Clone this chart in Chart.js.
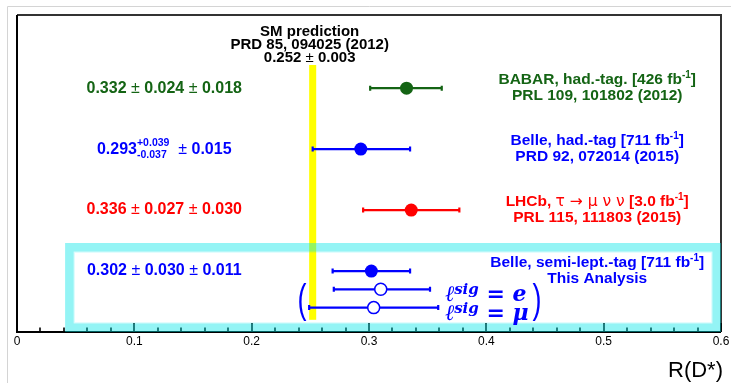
<!DOCTYPE html>
<html>
<head>
<meta charset="utf-8">
<script src="https://cdn.jsdelivr.net/npm/chart.js@4.4.1/dist/chart.umd.min.js"></script>
<style>
  html, body { margin: 0; padding: 0; background: #fff; }
  canvas { display: block; }
</style>
</head>
<body>
<canvas id="chart" width="731" height="383"></canvas>
<script>
// measurements (total error drawn as bar)
const experiments = ['BABAR, had.-tag.', 'Belle, had.-tag', 'LHCb, ', 'Belle, semi-lept.-tag']
const decayTags = ['', '', 'τ → μ ν ν', '']
const lumis = ['426', '711', '3.0', '711']
const references = ['PRL 109, 101802 (2012)', 'PRD 92, 072014 (2015)', 'PRL 115, 111803 (2015)', 'This Analysis']
const rdCentral = [0.332, 0.293, 0.336, 0.302]
const rdErrLow = [0.031, 0.041, 0.041, 0.033]
const rdErrHigh = [0.030, 0.042, 0.041, 0.033]
const statErrors = [['0.024'], ['+0.039', '-0.037'], ['0.027'], ['0.030']]
const systErrors = ['0.018', '0.015', '0.030', '0.011']
const rowPos = [1.2, 2.2, 3.2, 4.2]
const expColors = ['#146414', '#0000ff', '#ff0000', '#0000ff']

// this analysis split by signal lepton
const leptons = ['e', 'μ']
const leptonCentral = [0.310, 0.304]
const leptonErrLow = [0.040, 0.055]
const leptonErrHigh = [0.042, 0.055]
const leptonRowPos = [4.5, 4.8]

// SM prediction
const smValue = 0.252
const smError = 0.003
const smLines = ['SM prediction', 'PRD 85, 094025 (2012)']
const smRows = [0.82, 5.0]

// highlighted box around this analysis
const boxRange = { xMin: 0.041, xMax: 0.6, yMin: 3.74, yMax: 5.2 }

const xTickValues = [0, 0.1, 0.2, 0.3, 0.4, 0.5, 0.6]
const xTickLabels = ['0', '0.1', '0.2', '0.3', '0.4', '0.5', '0.6']
const xTitle = 'R(D*)'

const SANS = '"Liberation Sans", Arial, Helvetica, sans-serif'
const SERIF = '"DejaVu Serif", "Liberation Serif", serif'
const B = (s) => `bold ${s}px ${SANS}`
const R = (s) => `${s}px ${SANS}`

function drawRuns (ctx, runs, x, y, align) {
  let total = 0
  runs.forEach((r) => { ctx.font = r.font; r.w = ctx.measureText(r.text).width; total += r.w })
  let cx = align === 'center' ? x - total / 2 : (align === 'right' ? x - total : x)
  ctx.textAlign = 'left'
  runs.forEach((r) => {
    ctx.font = r.font
    ctx.fillText(r.text, cx, y + (r.dy || 0))
    cx += r.w
  })
}

const errorBars = {
  id: 'errorBars',
  beforeDatasetsDraw (chart) {
    const { ctx, scales: { x, y } } = chart
    ctx.save()
    // SM band
    ctx.fillStyle = '#ffff00'
    const bx0 = x.getPixelForValue(smValue - smError)
    const bx1 = x.getPixelForValue(smValue + smError)
    const by0 = y.getPixelForValue(smRows[0])
    const by1 = y.getPixelForValue(smRows[1])
    ctx.fillRect(bx0, by0, bx1 - bx0, by1 - by0)

    const bar = (c, lo, hi, row, color) => {
      const py = y.getPixelForValue(row)
      const x0 = x.getPixelForValue(c - lo)
      const x1 = x.getPixelForValue(c + hi)
      ctx.strokeStyle = color
      ctx.lineWidth = 2.2
      ctx.beginPath()
      ctx.moveTo(x0, py); ctx.lineTo(x1, py)
      ctx.moveTo(x0, py - 2.5); ctx.lineTo(x0, py + 2.5)
      ctx.moveTo(x1, py - 2.5); ctx.lineTo(x1, py + 2.5)
      ctx.stroke()
    }
    rdCentral.forEach((c, i) => bar(c, rdErrLow[i], rdErrHigh[i], rowPos[i], expColors[i]))
    leptonCentral.forEach((c, i) => bar(c, leptonErrLow[i], leptonErrHigh[i], leptonRowPos[i], '#0000ff'))
    ctx.restore()
  }
}

const decorations = {
  id: 'decorations',
  afterDraw (chart) {
    const { ctx, chartArea: a, scales: { x, y } } = chart
    ctx.save()
    // outer light border
    ctx.strokeStyle = '#d4d4d4'
    ctx.lineWidth = 1
    ctx.beginPath()
    ctx.moveTo(7.5, 383); ctx.lineTo(7.5, 6.5); ctx.lineTo(731, 6.5)
    ctx.stroke()

    // frame
    ctx.lineWidth = 2
    ctx.strokeStyle = '#333'
    ctx.beginPath()
    ctx.moveTo(a.left, a.top); ctx.lineTo(a.right, a.top); ctx.lineTo(a.right, a.bottom)
    ctx.stroke()
    ctx.strokeStyle = '#000'
    ctx.beginPath()
    ctx.moveTo(a.left, a.top); ctx.lineTo(a.left, a.bottom); ctx.lineTo(a.right, a.bottom)
    ctx.stroke()

    // ticks pointing inward
    ctx.lineWidth = 1.6
    ctx.beginPath()
    for (let k = 0; k <= 30; k++) {
      const px = Math.round(x.getPixelForValue(k * 0.02))
      const len = k % 5 === 0 ? 9 : 4.5
      ctx.moveTo(px, a.bottom); ctx.lineTo(px, a.bottom - len)
    }
    ctx.stroke()

    // tick labels
    ctx.fillStyle = '#000'
    ctx.font = R(12)
    ctx.textAlign = 'center'
    ctx.textBaseline = 'middle'
    xTickValues.forEach((v, i) => ctx.fillText(xTickLabels[i], x.getPixelForValue(v), a.bottom + 10))
    ctx.font = R(22)
    ctx.textAlign = 'right'
    ctx.textBaseline = 'alphabetic'
    ctx.fillText(xTitle, a.right + 2, 377)

    // highlight box
    const hx0 = x.getPixelForValue(boxRange.xMin)
    const hx1 = x.getPixelForValue(boxRange.xMax)
    const hy0 = y.getPixelForValue(boxRange.yMin)
    const hy1 = y.getPixelForValue(boxRange.yMax)
    const t = 8.5
    ctx.strokeStyle = 'rgba(0, 228, 232, 0.42)'
    ctx.lineWidth = t
    ctx.strokeRect(hx0 + t / 2, hy0 + t / 2, hx1 - hx0 - t, hy1 - hy0 - t)
    ctx.strokeStyle = 'rgba(0, 228, 232, 0.15)'
    ctx.lineWidth = 1.5
    ctx.strokeRect(hx0 + t + 0.5, hy0 + t + 0.5, hx1 - hx0 - 2 * t - 1, hy1 - hy0 - 2 * t - 1)

    // SM text
    ctx.textBaseline = 'middle'
    ctx.fillStyle = '#000'
    const smx = x.getPixelForValue(smValue) - 3
    drawRuns(ctx, [{ text: smLines[0], font: B(15) }], smx, 31.5, 'center')
    drawRuns(ctx, [{ text: smLines[1], font: B(15) }], smx, 44.5, 'center')
    drawRuns(ctx, [
      { text: smValue.toFixed(3) + ' ', font: B(15) },
      { text: '±', font: R(15) },
      { text: ' ' + smError.toFixed(3), font: B(15) }
    ], smx, 58, 'center')

    // left labels
    const leftX = x.getPixelForValue(0.1255)
    rdCentral.forEach((c, i) => {
      ctx.fillStyle = expColors[i]
      const py = y.getPixelForValue(rowPos[i])
      if (statErrors[i].length === 2) {
        // asymmetric stat error: stacked super/subscript
        ctx.font = B(16)
        const wMain = ctx.measureText(c.toFixed(3)).width
        ctx.font = B(10.5)
        const wUp = ctx.measureText(statErrors[i][0]).width
        const tail = [
          { text: '  ', font: B(16) },
          { text: '±', font: R(16) },
          { text: ' ' + systErrors[i], font: B(16) }
        ]
        let wTail = 0
        tail.forEach((r) => { ctx.font = r.font; wTail += ctx.measureText(r.text).width })
        const sx = leftX - (wMain + wUp + wTail) / 2
        ctx.textAlign = 'left'
        ctx.font = B(16)
        ctx.fillText(c.toFixed(3), sx, py)
        ctx.font = B(10.5)
        ctx.fillText(statErrors[i][0], sx + wMain, py - 6.5)
        ctx.fillText(statErrors[i][1], sx + wMain, py + 5.5)
        drawRuns(ctx, tail, sx + wMain + wUp, py, 'left')
      } else {
        drawRuns(ctx, [
          { text: c.toFixed(3) + ' ', font: B(16) },
          { text: '±', font: R(16) },
          { text: ' ' + statErrors[i][0] + ' ', font: B(16) },
          { text: '±', font: R(16) },
          { text: ' ' + systErrors[i], font: B(16) }
        ], leftX, py, 'center')
      }
    })

    // right labels
    const rightX = x.getPixelForValue(0.4945)
    experiments.forEach((name, i) => {
      ctx.fillStyle = expColors[i]
      const py = y.getPixelForValue(rowPos[i])
      const runs = [{ text: name, font: B(15.5) }]
      if (decayTags[i]) runs.push({ text: decayTags[i], font: '15.5px "DejaVu Sans", sans-serif' })
      runs.push({ text: ' [' + lumis[i] + ' fb', font: B(15.5) })
      runs.push({ text: '-1', font: B(10), dy: -5 })
      runs.push({ text: ']', font: B(15.5) })
      drawRuns(ctx, runs, rightX, py - 8, 'center')
      drawRuns(ctx, [{ text: references[i], font: B(15.5) }], rightX, py + 7.5, 'center')
    })

    // lepton legend
    ctx.fillStyle = '#0000ff'
    ctx.textBaseline = 'alphabetic'
    const legX = 445
    leptons.forEach((l, i) => {
      const py = y.getPixelForValue(leptonRowPos[i]) + 12
      drawRuns(ctx, [
        { text: 'ℓ', font: `italic 22px ${SERIF}` },
        { text: 'sig', font: `bold italic 15px ${SERIF}`, dy: -7 },
        { text: ' = ' + l, font: `bold italic 22px ${SERIF}` }
      ], legX, py, 'left')
    })
    // thin tall brackets
    const midY = (y.getPixelForValue(leptonRowPos[0]) + y.getPixelForValue(leptonRowPos[1])) / 2 + 3
    ctx.font = R(27)
    ctx.textAlign = 'center'
    ctx.textBaseline = 'middle'
    ;[['(', 302], [')', 537]].forEach(([ch, bxp]) => {
      ctx.save()
      ctx.translate(bxp, midY)
      ctx.scale(1, 1.5)
      ctx.fillText(ch, 0, 0)
      ctx.restore()
    })
    ctx.restore()
  }
}

const ctx = document.getElementById('chart').getContext('2d')
new Chart(ctx, {
  type: 'scatter',
  data: {
    datasets: [
      {
        data: rdCentral.map((v, i) => ({ x: v, y: rowPos[i] })),
        backgroundColor: expColors,
        borderColor: expColors,
        borderWidth: 0,
        pointRadius: 6.5
      },
      {
        data: leptonCentral.map((v, i) => ({ x: v, y: leptonRowPos[i] })),
        backgroundColor: '#ffffff',
        borderColor: '#0000ff',
        borderWidth: 1.5,
        pointRadius: 6
      }
    ]
  },
  options: {
    responsive: false,
    animation: false,
    devicePixelRatio: 1,
    layout: { padding: { left: 17, right: 10, top: 15, bottom: 51 } },
    scales: {
      x: { type: 'linear', min: 0, max: 0.6, display: false },
      y: { type: 'linear', min: 0, max: 5.2, reverse: true, display: false }
    },
    plugins: { legend: { display: false }, tooltip: { enabled: false } }
  },
  plugins: [errorBars, decorations]
})
</script>
</body>
</html>
